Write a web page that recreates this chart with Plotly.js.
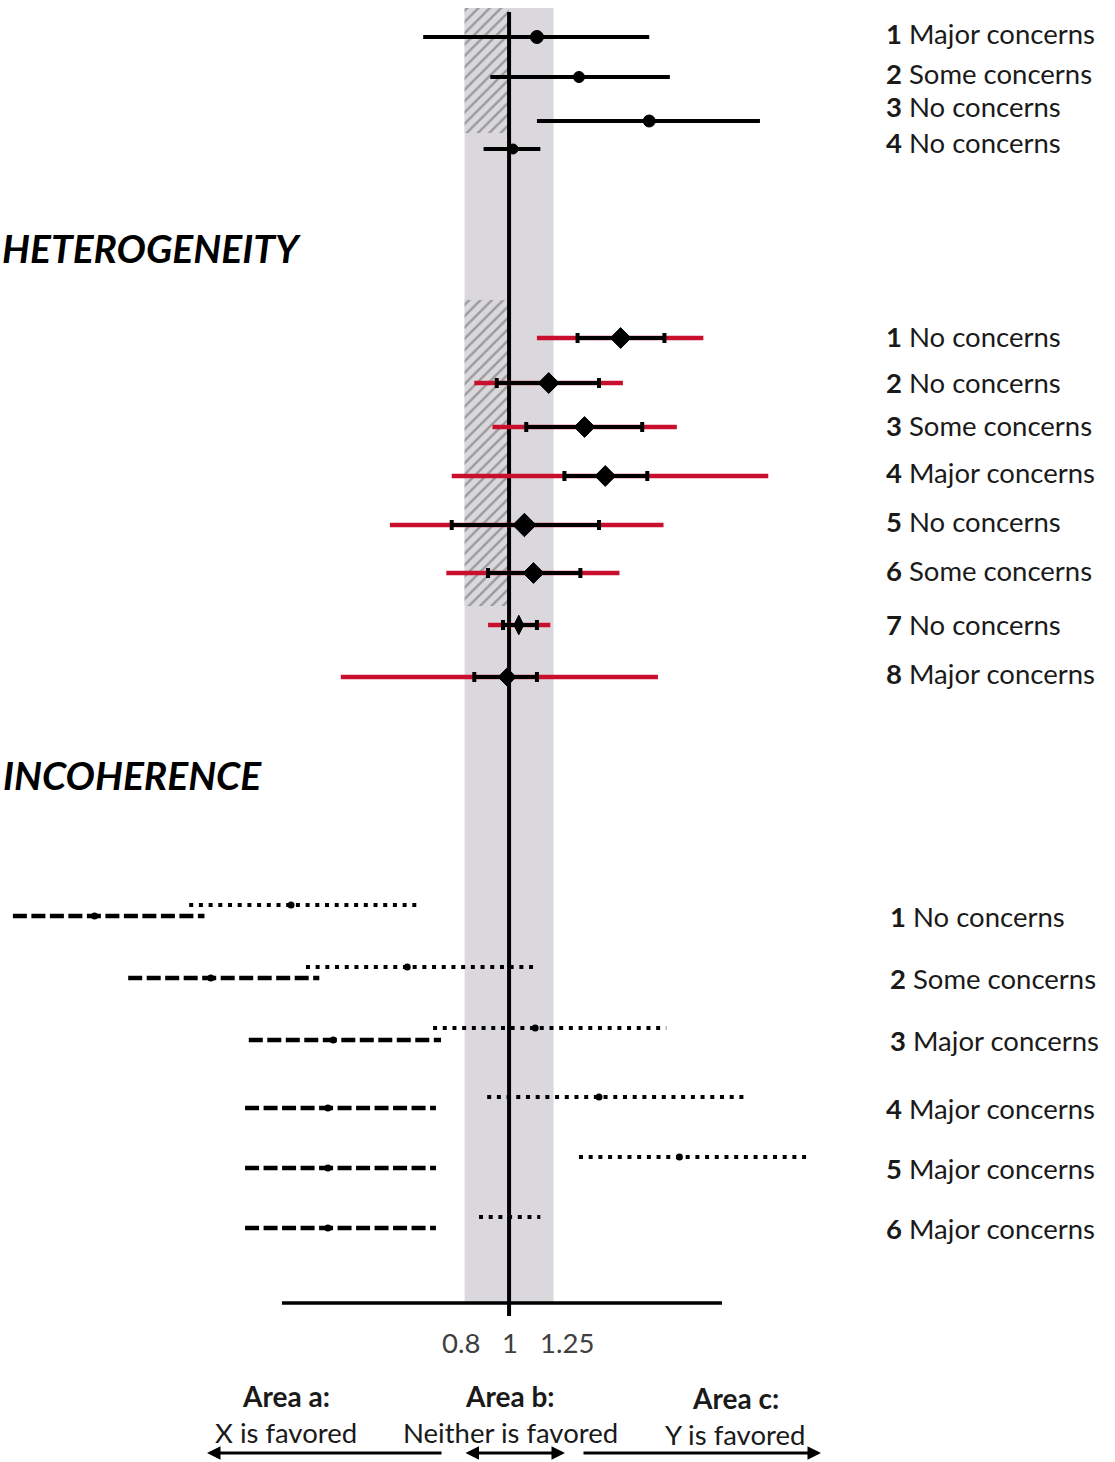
<!DOCTYPE html>
<html><head><meta charset="utf-8">
<script src="https://cdn.plot.ly/plotly-3.0.1.min.js"></script>
<style>html,body{margin:0;padding:0;background:#fff;overflow:hidden}#chart{width:1115px;height:1462px;}</style>
</head><body><div id="chart"></div>
<script>
// ================= DATA (ratio scale) =================
// Top block
const s1Labels = ['Major concerns','Some concerns','No concerns','No concerns'];
const s1Est = [1.15, 1.42, 2.02, 1.02];
const s1Lo  = [0.65, 0.91, 1.15, 0.88];
const s1Hi  = [2.02, 2.24, 3.52, 1.17];

// Heterogeneity block: estimate, confidence interval (black), prediction interval (red)
const hetLabels = ['No concerns','No concerns','Some concerns','Major concerns','No concerns','Some concerns','No concerns','Major concerns'];
const hetEst  = [1.75, 1.22, 1.46, 1.62, 1.08, 1.13, 1.05, 0.99];
const hetCiLo = [1.41, 0.94, 1.09, 1.32, 0.75, 0.90, 0.97, 0.84];
const hetCiHi = [2.18, 1.57, 1.95, 2.00, 1.57, 1.43, 1.15, 1.15];
const hetPiLo = [1.15, 0.84, 0.92, 0.75, 0.55, 0.73, 0.90, 0.43];
const hetPiHi = [2.65, 1.77, 2.32, 3.67, 2.17, 1.74, 1.23, 2.11];

// Incoherence block: dotted and dashed estimates
const incLabels = ['No concerns','Some concerns','Major concerns','Major concerns','Major concerns','Major concerns'];
const dotEst = [0.335, 0.60, 1.14, 1.57, 2.35, null];
const dotLo  = [0.201, 0.361, 0.683, 0.896, 1.42, 0.860];
const dotHi  = [0.643, 1.16, 2.20, 3.32, 4.55, 1.17];
const dashEst = [0.125, 0.224, 0.414, 0.403, 0.403, 0.403];
const dashLo  = [0.083, 0.148, 0.271, 0.266, 0.266, 0.266];
const dashHi  = [0.217, 0.386, 0.711, 0.693, 0.693, 0.693];

const tickVals = [0.8, 1, 1.25];
const tickText = ['0.8', '1', '1.25'];
const bandLo = 0.8, bandHi = 1.25;
const axisLo = 0.32, axisHi = 2.91;
const areaTitles = ['Area a:', 'Area b:', 'Area c:'];
const areaTexts = ['X is favored', 'Neither is favored', 'Y is favored'];
const headers = ['HETEROGENEITY', 'INCOHERENCE'];

// ================= LAYOUT POSITIONS =================
const W = 1115, H = 1462;
const FONT = 'Lato, "Open Sans", sans-serif';
const RED = '#c8102e';
const BAND = '#dad8dc';
const s1Y = [37, 77, 121, 149];
const s1LabelY = [33, 73, 106, 142];
const hetY = [338, 383, 427, 476, 525, 573, 625, 677];
const hetLabelY = [336, 382, 425, 472, 521, 570, 624, 673];
const dotY = [905, 967, 1028, 1097, 1157, 1217];
const dashY = [916, 978, 1040, 1108, 1168, 1228];
const incLabelY = [916, 978, 1040, 1108, 1168, 1228];
const incLabelX = [888, 888, 888, 884, 884, 884];
const bandTop = 8, axisY = 1303;
const hatch1 = [8, 133], hatch2 = [300, 606];

function segs(lo, hi, ys) {
  const x = [], y = [];
  lo.forEach((l, i) => { x.push(l, hi[i], null); y.push(ys[i], ys[i], null); });
  return {x, y};
}
function rect(x0, x1, y0, y1) { return {x: [x0, x1, x1, x0, x0], y: [y0, y0, y1, y1, y0]}; }

const traces = [];
// grey band
const b = rect(bandLo, bandHi, bandTop, axisY);
traces.push({x: b.x, y: b.y, mode: 'lines', fill: 'toself', fillcolor: BAND, line: {width: 0}, hoverinfo: 'skip'});
// hatched areas
[hatch1, hatch2].forEach(h => {
  const r = rect(bandLo, 1, h[0], h[1]);
  traces.push({x: r.x, y: r.y, mode: 'lines', fill: 'toself', line: {width: 0},
    fillpattern: {shape: '/', fgcolor: '#9a9a9a', bgcolor: BAND, size: 8, solidity: 0.3}, hoverinfo: 'skip'});
});
// horizontal axis line
traces.push({x: [axisLo, axisHi], y: [axisY, axisY], mode: 'lines', line: {color: '#000', width: 3.5}});
// vertical line of no effect
traces.push({x: [1, 1], y: [12, 1316], mode: 'lines', line: {color: '#000', width: 4}});

// top block
traces.push({x: s1Est, y: s1Y, mode: 'markers',
  marker: {color: '#000', opacity: 1, size: [13, 11, 12, 10], symbol: 'circle', line: {color: '#000', width: 1}},
  error_x: {type: 'data', symmetric: false,
    array: s1Est.map((v, i) => s1Hi[i] - v), arrayminus: s1Est.map((v, i) => v - s1Lo[i]),
    thickness: 4, width: 0, color: '#000'}});

// heterogeneity: red prediction intervals
const pi = segs(hetPiLo, hetPiHi, hetY);
traces.push({x: pi.x, y: pi.y, mode: 'lines', line: {color: RED, width: 4.5}});
// confidence intervals + diamonds
traces.push({x: hetEst, y: hetY, mode: 'markers',
  marker: {color: '#000', opacity: 1, size: [16, 16, 16, 16, 18, 16, 14, 14], line: {color: '#000', width: 1},
    symbol: ['diamond','diamond','diamond','diamond','diamond','diamond','diamond-tall','diamond']},
  error_x: {type: 'data', symmetric: false,
    array: hetEst.map((v, i) => hetCiHi[i] - v), arrayminus: hetEst.map((v, i) => v - hetCiLo[i]),
    thickness: 4, width: 5, color: '#000'}});

// incoherence: dotted
const dt = segs(dotLo, dotHi, dotY);
traces.push({x: dt.x, y: dt.y, mode: 'lines', line: {color: '#000', width: 4, dash: '4px,5.7px'}});
traces.push({x: dotEst, y: dotY, mode: 'markers', marker: {color: '#000', opacity: 1, size: 7}});
// incoherence: dashed
const ds = segs(dashLo, dashHi, dashY);
traces.push({x: ds.x, y: ds.y, mode: 'lines', line: {color: '#000', width: 4.5, dash: '14px,4.5px'}});
traces.push({x: dashEst, y: dashY, mode: 'markers', marker: {color: '#000', opacity: 1, size: 7}});

// ================= ANNOTATIONS =================
const ann = [];
const TXT = 27.5;
const lab = (txt, px, y, opts = {}) => Object.assign({
  text: txt, xref: 'paper', yref: 'y', x: px / W, y: y, showarrow: false,
  xanchor: 'left', yanchor: 'middle', font: {family: FONT, size: TXT, color: '#1a1a1a'}}, opts);

s1Labels.forEach((t, i) => ann.push(lab('<b>' + (i + 1) + '</b> ' + t, 884, s1LabelY[i])));
hetLabels.forEach((t, i) => ann.push(lab('<b>' + (i + 1) + '</b> ' + t, 884, hetLabelY[i])));
incLabels.forEach((t, i) => ann.push(lab('<b>' + (i + 1) + '</b> ' + t, incLabelX[i], incLabelY[i])));

ann.push(lab('<b><i>' + headers[0] + '</i></b>', 0, 248, {xanchor: 'left', font: {family: FONT, size: 39, color: '#000'}}));
ann.push(lab('<b><i>' + headers[1] + '</i></b>', 1, 775, {xanchor: 'left', font: {family: FONT, size: 39, color: '#000'}}));

// tick labels
const tickShift = [-4, 1, 13];
tickVals.forEach((v, i) => ann.push({text: tickText[i], xref: 'x', yref: 'y', x: Math.log10(v), y: 1342,
  xshift: tickShift[i], showarrow: false, xanchor: 'center', yanchor: 'middle',
  font: {family: FONT, size: TXT, color: '#404040'}}));

// area texts
const areaX = [286, 510, 735];
const areaTitleY = [1396, 1396, 1398];
const areaTextY = [1432, 1432, 1434];
areaTitles.forEach((t, i) => {
  ann.push(lab('<b>' + t + '</b>', areaX[i], areaTitleY[i], {xanchor: 'center', font: {family: FONT, size: 28, color: '#1a1a1a'}}));
  ann.push(lab(areaTexts[i], areaX[i], areaTextY[i], {xanchor: 'center', font: {family: FONT, size: TXT, color: '#1a1a1a'}}));
});

// arrows
const arrow = (head, tail, y, both) => ({
  text: '', xref: 'paper', yref: 'y', x: head / W, y: y, ax: tail - head, ay: 0,
  showarrow: true, arrowhead: 2, arrowsize: 0.9, arrowwidth: 3, arrowcolor: '#000',
  arrowside: both ? 'end+start' : 'end', startarrowhead: 2, startarrowsize: 0.9, standoff: 0, startstandoff: 0});
ann.push(arrow(207, 443, 1453, false));
ann.push(arrow(565, 464, 1453, true));
ann.push(arrow(821, 582, 1453, false));

const layout = {
  width: W, height: H, margin: {l: 0, r: 0, t: 0, b: 0},
  paper_bgcolor: '#fff', plot_bgcolor: '#fff', showlegend: false,
  xaxis: {type: 'log', range: [-1.109, 1.320], visible: false, fixedrange: true},
  yaxis: {range: [H, 0], visible: false, fixedrange: true},
  annotations: ann
};
Plotly.newPlot('chart', traces, layout, {staticPlot: true, displayModeBar: false});
</script></body></html>
